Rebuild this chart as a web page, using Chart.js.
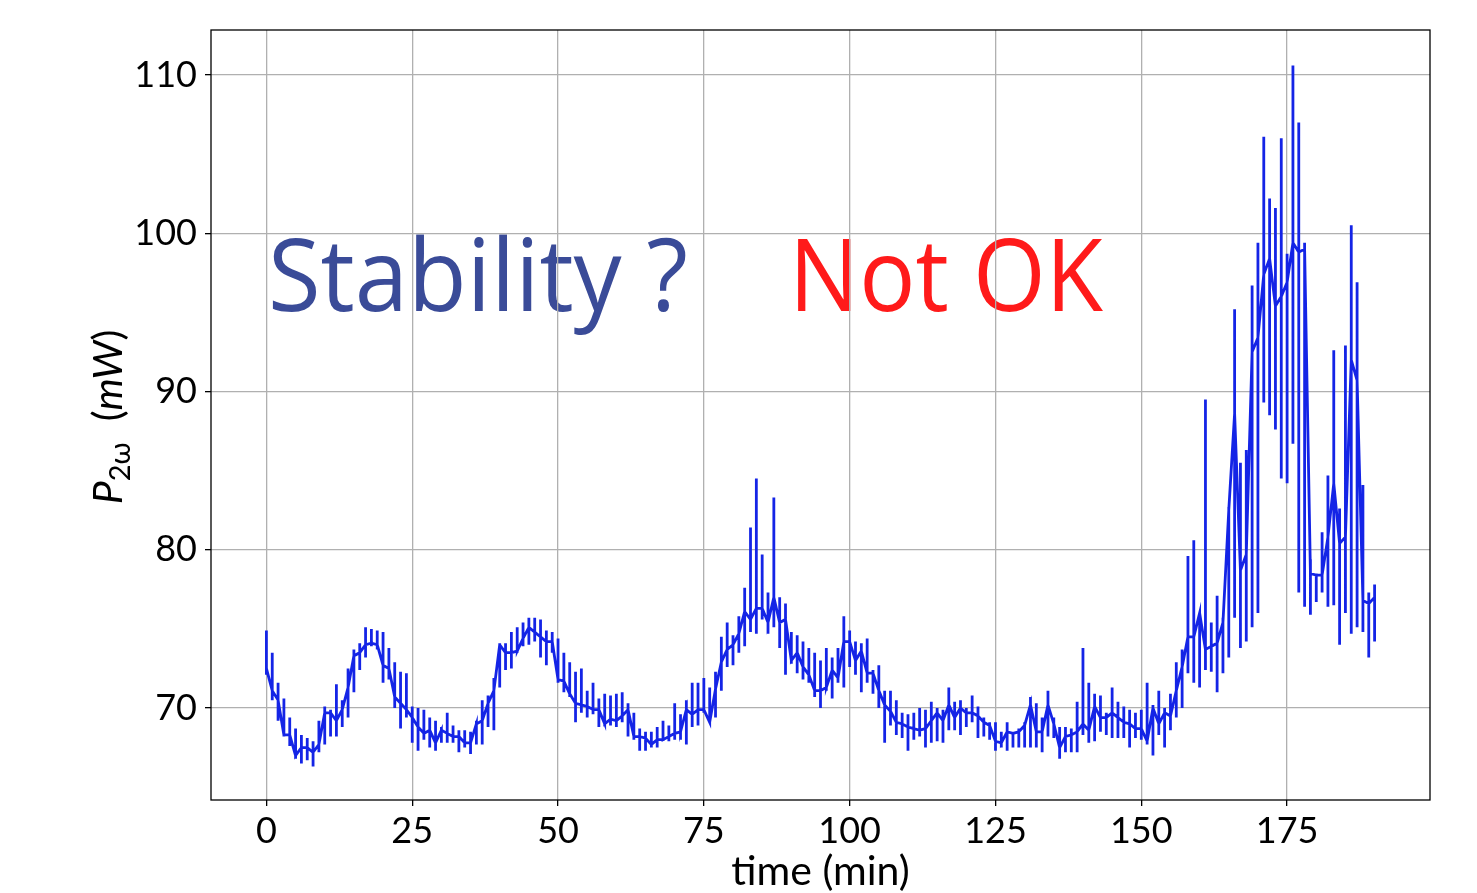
<!DOCTYPE html>
<html>
<head>
<meta charset="utf-8">
<script src="https://cdn.jsdelivr.net/npm/chart.js@4.4.1/dist/chart.umd.min.js"></script>
<style>
  html, body { margin: 0; padding: 0; background: #fff; }
  #wrap { width: 1477px; height: 893px; }
</style>
</head>
<body>
<div id="wrap"><canvas id="power" width="1477" height="893"></canvas></div>
<script>
// time of each reading (min)
const minutes = [
  0, 1, 2, 3, 4, 5, 6, 7, 8, 9, 10, 11, 12, 13, 14, 15, 16, 17, 18, 19,
  20, 21, 22, 23, 24, 25, 26, 27, 28, 29, 30, 31, 32, 33, 34, 35, 36, 37, 38, 39,
  40, 41, 42, 43, 44, 45, 46, 47, 48, 49, 50, 51, 52, 53, 54, 55, 56, 57, 58, 59,
  60, 61, 62, 63, 64, 65, 66, 67, 68, 69, 70, 71, 72, 73, 74, 75, 76, 77, 78, 79,
  80, 81, 82, 83, 84, 85, 86, 87, 88, 89, 90, 91, 92, 93, 94, 95, 96, 97, 98, 99,
  100, 101, 102, 103, 104, 105, 106, 107, 108, 109, 110, 111, 112, 113, 114, 115, 116, 117, 118, 119,
  120, 121, 122, 123, 124, 125, 126, 127, 128, 129, 130, 131, 132, 133, 134, 135, 136, 137, 138, 139,
  140, 141, 142, 143, 144, 145, 146, 147, 148, 149, 150, 151, 152, 153, 154, 155, 156, 157, 158, 159,
  160, 161, 162, 163, 164, 165, 166, 167, 168, 169, 170, 171, 172, 173, 174, 175, 176, 177, 178, 179,
  180, 181, 182, 183, 184, 185, 186, 187, 188, 189, 190
];

// top of the spread at each reading (mW)
const pHigh = [
  74.9, 73.5, 71.6, 70.6, 69.4, 68.7, 68.3, 68.1, 67.9, 69.2,
  70.1, 69.9, 71.5, 70.5, 72.5, 73.7, 74.1, 75.1, 75.0, 74.9,
  74.8, 73.8, 72.9, 72.3, 72.2, 70.1, 70.0, 69.9, 69.4, 69.2,
  68.8, 69.7, 68.9, 68.6, 68.6, 68.5, 69.2, 70.5, 70.8, 71.9,
  74.1, 74.1, 74.8, 75.1, 75.4, 75.7, 75.7, 75.6, 74.9, 74.8,
  74.4, 73.5, 72.9, 72.3, 72.5, 71.1, 71.6, 70.6, 70.9, 70.8,
  70.9, 71.0, 70.3, 69.7, 68.7, 68.5, 68.5, 68.8, 69.2, 68.9,
  70.3, 69.6, 70.5, 71.6, 71.6, 71.9, 71.3, 72.3, 74.5, 75.4,
  74.6, 75.8, 77.6, 81.4, 84.5, 79.7, 77.3, 83.3, 77.0, 76.6,
  74.8, 74.6, 74.2, 73.8, 73.5, 73.0, 73.8, 73.2, 73.8, 75.8,
  74.9, 74.2, 74.1, 74.4, 72.4, 72.7, 71.1, 71.1, 70.5, 69.7,
  69.6, 69.7, 70.0, 69.9, 70.4, 70.0, 69.9, 71.3, 70.4, 70.5,
  70.0, 70.8, 70.1, 69.4, 69.1, 69.1, 68.5, 69.1, 68.4, 68.7,
  69.1, 70.7, 70.3, 69.4, 71.1, 69.4, 68.8, 68.8, 68.7, 70.4,
  73.8, 71.6, 70.9, 70.8, 69.7, 71.3, 70.4, 70.1, 69.9, 69.7,
  69.9, 71.6, 70.2, 71.1, 70.0, 70.9, 72.9, 73.7, 79.6, 80.6,
  76.0, 89.5, 75.4, 77.1, 75.7, 82.7, 95.2, 85.5, 86.3, 96.7,
  99.4, 106.1, 102.2, 101.6, 106.0, 98.7, 110.6, 107.0, 99.4, 79.4,
  78.5, 81.1, 84.7, 92.6, 82.6, 92.9, 100.5, 96.9, 84.1, 77.3, 77.8
];

// bottom of the spread at each reading (mW)
const pLow = [
  72.1, 70.5, 69.2, 68.2, 67.6, 66.8, 66.5, 66.7, 66.3, 67.2,
  67.7, 68.2, 68.2, 68.8, 69.4, 71.0, 72.4, 73.2, 73.9, 73.7,
  71.6, 71.8, 70.0, 68.7, 69.4, 67.8, 67.3, 68.0, 67.5, 67.3,
  67.8, 67.8, 67.8, 67.2, 67.5, 67.1, 67.7, 67.7, 68.8, 68.6,
  71.3, 72.4, 72.5, 73.5, 73.9, 74.0, 74.2, 73.2, 72.7, 73.5,
  71.6, 71.0, 70.7, 69.1, 69.7, 69.4, 69.6, 68.8, 69.1, 68.9,
  68.8, 69.1, 68.2, 68.0, 67.3, 67.3, 67.5, 67.5, 68.0, 67.9,
  68.0, 68.0, 67.7, 68.8, 68.9, 69.7, 69.1, 69.4, 71.1, 72.6,
  72.7, 73.5, 73.9, 74.8, 74.7, 75.6, 74.7, 75.1, 73.8, 72.1,
  72.8, 72.2, 71.8, 71.6, 70.7, 70.0, 71.1, 70.6, 71.6, 71.3,
  72.6, 72.1, 71.0, 71.6, 70.9, 70.0, 67.8, 68.9, 68.3, 68.1,
  67.3, 68.0, 68.2, 67.5, 67.8, 67.9, 67.8, 68.6, 68.6, 68.3,
  68.8, 69.1, 68.1, 68.2, 68.0, 67.3, 67.5, 67.3, 67.5, 67.5,
  67.5, 67.5, 67.5, 67.2, 68.2, 68.1, 66.8, 67.2, 67.2, 67.2,
  68.3, 67.8, 67.9, 68.5, 68.3, 68.1, 68.1, 68.1, 67.5, 68.1,
  68.0, 67.7, 67.0, 68.3, 67.5, 68.6, 69.4, 70.0, 72.2, 71.6,
  71.3, 72.4, 72.3, 71.0, 72.2, 73.2, 75.7, 73.8, 74.2, 75.1,
  76.0, 89.3, 88.5, 87.6, 84.5, 84.2, 86.7, 77.3, 76.4, 75.9,
  76.7, 77.3, 76.4, 76.5, 74.0, 76.0, 74.7, 75.1, 74.8, 73.2, 74.2
];

// level the trace passes through between readings (mW)
const pMid = [
  72.5, 71.1, 70.5, 68.3, 68.3, 67.0, 67.5, 67.5, 67.2, 67.7,
  69.7, 69.7, 69.2, 69.9, 71.3, 73.3, 73.5, 74.0, 74.1, 74.0,
  72.7, 72.5, 70.7, 70.3, 69.9, 69.4, 68.8, 68.4, 68.6, 67.8,
  68.6, 68.4, 68.2, 68.2, 67.8, 67.8, 69.0, 69.2, 70.3, 71.1,
  74.0, 73.5, 73.5, 73.6, 74.4, 75.1, 74.8, 74.5, 74.2, 74.2,
  71.8, 71.7, 70.9, 70.3, 70.2, 70.1, 69.9, 69.9, 69.0, 69.3,
  69.2, 69.5, 69.9, 68.2, 68.2, 68.1, 67.7, 68.0, 68.0, 68.2,
  68.4, 68.5, 69.9, 69.6, 69.9, 69.9, 69.1, 71.2, 72.9, 73.7,
  74.0, 74.7, 76.1, 75.6, 76.3, 76.3, 75.4, 77.0, 75.4, 75.6,
  73.0, 73.5, 72.6, 72.1, 71.1, 71.1, 71.3, 72.4, 71.9, 74.2,
  74.2, 73.0, 73.6, 72.2, 72.2, 71.1, 70.2, 69.8, 69.1, 69.0,
  68.8, 68.7, 68.6, 68.7, 69.2, 69.7, 69.2, 70.2, 69.4, 70.0,
  69.7, 69.7, 69.5, 69.1, 68.9, 67.9, 67.8, 68.5, 68.4, 68.5,
  68.9, 70.2, 68.5, 68.5, 70.2, 69.0, 67.5, 68.2, 68.3, 68.5,
  69.0, 68.6, 70.1, 69.4, 69.4, 69.7, 69.4, 69.1, 69.0, 68.7,
  68.7, 67.9, 70.0, 69.0, 69.7, 69.5, 71.1, 72.6, 74.5, 74.5,
  76.0, 73.7, 73.9, 74.1, 75.4, 82.5, 88.6, 78.7, 79.7, 92.5,
  93.4, 97.4, 98.4, 95.4, 96.0, 96.9, 99.4, 98.8, 99.0, 78.5,
  78.4, 78.4, 80.8, 84.2, 80.4, 80.8, 92.0, 90.7, 76.8, 76.6, 77.0
];

const xTickValues = [0, 25, 50, 75, 100, 125, 150, 175];
const yTickValues = [70, 80, 90, 100, 110];

// the trace: at each reading go up to the top, down to the bottom, back to mid
const trace = [];
minutes.forEach((t, i) => {
  trace.push({ x: t, y: pMid[i] });
  trace.push({ x: t, y: pHigh[i] });
  trace.push({ x: t, y: pLow[i] });
  trace.push({ x: t, y: pMid[i] });
});

const tickFont = { family: 'Lato', size: 36 };

const notes = {
  id: 'notes',
  beforeDraw(chart) {
    const ctx = chart.ctx;
    const put = (txt, color, left, width, base) => {
      ctx.save();
      ctx.font = '100px "Open Sans"';
      ctx.fillStyle = color;
      ctx.textBaseline = 'alphabetic';
      const w = ctx.measureText(txt).width;
      ctx.translate(left, base);
      ctx.scale(width / w, 1);
      ctx.fillText(txt, 0, 0);
      ctx.restore();
    };
    put('Stability ?', '#3a4b98', 268, 420, 311);
    put('Not OK', '#ff1a1a', 789, 314, 311);
  },
  afterDraw(chart) {
    const ctx = chart.ctx;
    const a = chart.chartArea;
    ctx.save();
    // axes box
    ctx.strokeStyle = '#000';
    ctx.lineWidth = 1.3;
    ctx.strokeRect(a.left, a.top, a.right - a.left, a.bottom - a.top);

    // x title
    ctx.fillStyle = '#000';
    ctx.font = '41px Lato';
    ctx.textAlign = 'center';
    ctx.textBaseline = 'alphabetic';
    ctx.fillText('time (min)', (a.left + a.right) / 2, 885);

    // y title with subscript
    const parts = [
      { t: 'P', f: 'italic 41px Lato', dy: 0 },
      { t: '2ω', f: '29px Lato', dy: 8 },
      { t: '  (', f: '41px Lato', dy: 0 },
      { t: 'mW', f: 'italic 41px Lato', dy: 0 },
      { t: ')', f: '41px Lato', dy: 0 }
    ];
    let total = 0;
    parts.forEach(p => { ctx.font = p.f; p.w = ctx.measureText(p.t).width; total += p.w; });
    ctx.translate(122, (a.top + a.bottom) / 2 + 2);
    ctx.rotate(-Math.PI / 2);
    ctx.textAlign = 'left';
    let x = -total / 2;
    parts.forEach(p => {
      ctx.font = p.f;
      ctx.fillText(p.t, x, p.dy);
      x += p.w;
    });
    ctx.restore();
  }
};

new Chart(document.getElementById('power'), {
  type: 'scatter',
  data: {
    datasets: [{
      data: trace,
      showLine: true,
      borderColor: '#1424e6',
      borderWidth: 2.8,
      pointRadius: 0,
      pointHoverRadius: 0,
      tension: 0
    }]
  },
  options: {
    responsive: false,
    animation: false,
    devicePixelRatio: 1,
    layout: { padding: { left: 0, right: 47, top: 30, bottom: 0 } },
    plugins: {
      legend: { display: false },
      tooltip: { enabled: false }
    },
    scales: {
      x: {
        type: 'linear',
        min: -9.5,
        max: 199.5,
        afterBuildTicks: s => { s.ticks = xTickValues.map(v => ({ value: v })); },
        afterFit: s => { s.height = 93; },
        grid: { color: '#b0b0b0', lineWidth: 1.3, tickLength: 6, tickColor: '#000', tickWidth: 1.3 },
        border: { display: false },
        ticks: { font: tickFont, color: '#000', padding: 4, autoSkip: false, maxRotation: 0 }
      },
      y: {
        type: 'linear',
        min: 64.19,
        max: 112.84,
        afterBuildTicks: s => { s.ticks = yTickValues.map(v => ({ value: v })); },
        afterFit: s => { s.width = 211; },
        grid: { color: '#b0b0b0', lineWidth: 1.3, tickLength: 6, tickColor: '#000', tickWidth: 1.3 },
        border: { display: false },
        ticks: { font: tickFont, color: '#000', padding: 8, autoSkip: false }
      }
    }
  },
  plugins: [notes]
});
</script>
</body>
</html>
